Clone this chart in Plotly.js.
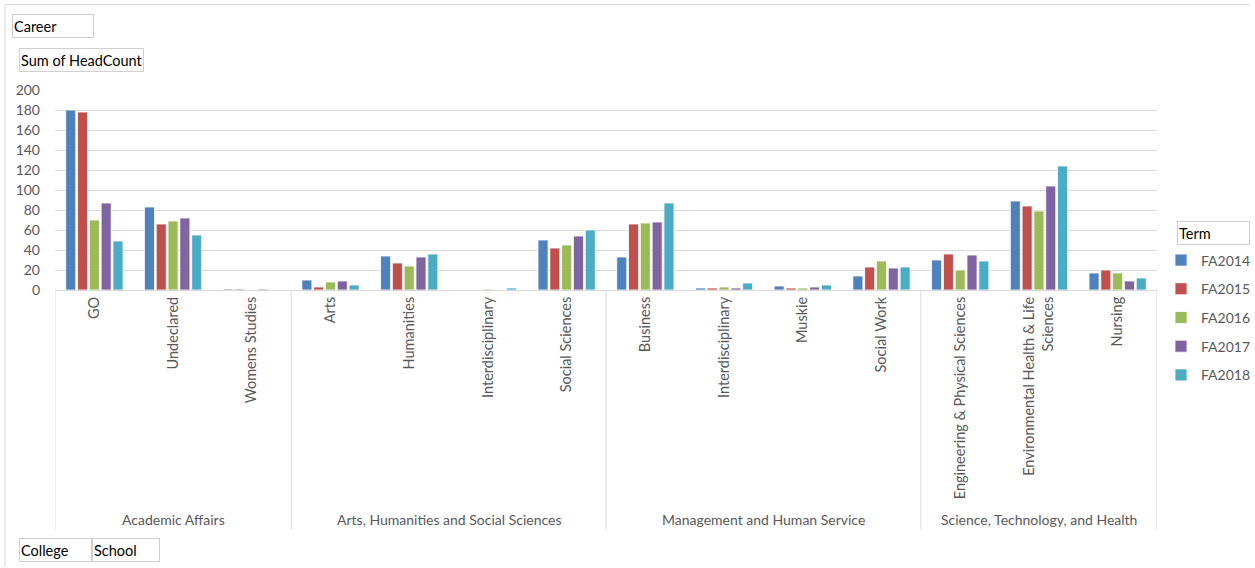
<!DOCTYPE html>
<html>
<head>
<meta charset="utf-8">
<script src="https://cdn.plot.ly/plotly-3.0.1.min.js"></script>
<style>html,body{margin:0;padding:0;background:#fff;}#chart{width:1255px;height:568px;}</style>
</head>
<body>
<div id="chart"></div>
<script>
// ---- data ----
const colleges = ["Academic Affairs", "Arts, Humanities and Social Sciences", "Management and Human Service", "Science, Technology, and Health"];
const schoolCollege = [0, 0, 0, 1, 1, 1, 1, 2, 2, 2, 2, 3, 3, 3];
const schools = ["GO", "Undeclared", "Womens Studies", "Arts", "Humanities", "Interdisciplinary", "Social Sciences", "Business", "Interdisciplinary", "Muskie", "Social Work", "Engineering & Physical Sciences", "Environmental Health & Life<br>Sciences", "Nursing"];
const terms = ["FA2014", "FA2015", "FA2016", "FA2017", "FA2018"];
const fa2014 = [180, 83, 1, 10, 34, null, 50, 33, 2, 4, 14, 30, 89, 17];
const fa2015 = [178, 66, 1, 3, 27, null, 42, 66, 2, 2, 23, 36, 84, 20];
const fa2016 = [70, 69, null, 8, 24, 1, 45, 67, 3, 2, 29, 20, 79, 17];
const fa2017 = [87, 72, 1, 9, 33, null, 54, 68, 2, 3, 22, 35, 104, 9];
const fa2018 = [49, 55, null, 5, 36, 2, 60, 87, 7, 5, 23, 29, 124, 12];
const series = [fa2014, fa2015, fa2016, fa2017, fa2018];
const colors = ["#4F81BD", "#C0504D", "#9BBB59", "#8064A2", "#4BACC6"];

const xIdx = schools.map((_, i) => i);
const FONT = "Lato, 'Liberation Sans', sans-serif";
const PW = 1102; // plot width in px

const traces = series.map((vals, k) => ({
  type: "bar",
  name: terms[k],
  x: xIdx,
  y: vals,
  legendgroup: terms[k],
  marker: {color: colors[k], line: {color: "rgba(255,255,255,0.8)", width: 1}},
  hoverinfo: "x+y+name"
}));

// group dividers and labels
const shapes = [];
const annotations = [];
const groupStarts = [];
colleges.forEach((c, g) => {
  const idx = xIdx.filter(i => schoolCollege[i] === g);
  const lo = Math.min(...idx), hi = Math.max(...idx);
  groupStarts.push(lo - 0.5);
  annotations.push({
    text: c, xref: "x", yref: "paper", x: (lo + hi) / 2, y: -1.145,
    showarrow: false, yanchor: "middle",
    font: {family: FONT, size: 14, color: "#595959"}
  });
});
groupStarts.push(schools.length - 0.5);
groupStarts.forEach(xv => shapes.push({
  type: "line", xref: "x", yref: "paper", x0: xv, x1: xv, y0: 0, y1: -1.2,
  line: {color: "#d9d9d9", width: 1}
}));
// outer border of chart (top and left edges)
const bx0 = (5 - 55) / PW, bx1 = (1250 - 55) / PW, by0 = (290 - 567) / 200, by1 = (290 - 4.5) / 200;
shapes.push({type: "line", xref: "paper", yref: "paper", x0: bx0, x1: bx1, y0: by1, y1: by1, line: {color: "#d9d9d9", width: 1}});
shapes.push({type: "line", xref: "paper", yref: "paper", x0: bx0, x1: bx0, y0: by0, y1: by1, line: {color: "#d9d9d9", width: 1}});

function boxLabel(text, cx, cy, w) {
  return {
    text: text, xref: "paper", yref: "paper",
    x: (cx - 55) / PW, y: (290 - cy) / 200,
    xanchor: "center", yanchor: "middle", showarrow: false,
    width: w, height: 20, align: "left",
    bordercolor: "#d0d0d0", borderwidth: 1, borderpad: 1,
    font: {family: FONT, size: 14.5, color: "#000"}
  };
}
annotations.push(boxLabel("Career", 53, 26, 78));
annotations.push(boxLabel("Sum of HeadCount", 81.5, 60, 121));
annotations.push(boxLabel("College", 55.5, 550, 69));
annotations.push(boxLabel("School", 126, 550, 64));
annotations.push(boxLabel("Term", 1213.5, 233, 69));

const layout = {
  width: 1255, height: 568,
  margin: {l: 55, r: 98, t: 90, b: 278, autoexpand: false},
  paper_bgcolor: "#fff", plot_bgcolor: "#fff",
  font: {family: FONT, color: "#595959", size: 13},
  barmode: "group", bargap: 0.25, bargroupgap: 0.15,
  showlegend: true,
  legend: {
    x: (1161 - 55) / PW, xanchor: "left", y: (290 - 244.5) / 200, yanchor: "top",
    traceorder: "grouped", tracegroupgap: 7.5,
    font: {family: FONT, size: 14, color: "#595959"},
    itemwidth: 30, bgcolor: "rgba(0,0,0,0)"
  },
  xaxis: {
    range: [-0.5, schools.length - 0.5],
    tickmode: "array", tickvals: xIdx, ticktext: schools,
    tickangle: -90, showgrid: false, zeroline: false,
    showline: true, linecolor: "#d9d9d9", linewidth: 1,
    ticks: "", ticklen: 0,
    tickfont: {family: FONT, size: 14.5, color: "#595959"}, fixedrange: true
  },
  yaxis: {
    range: [0, 200], dtick: 20, tick0: 0,
    showgrid: true, gridcolor: "#d9d9d9", gridwidth: 1,
    zeroline: false, showline: false, ticks: "",
    ticklabelstandoff: 14,
    tickfont: {family: FONT, size: 14, color: "#595959"}, fixedrange: true
  },
  shapes: shapes,
  annotations: annotations
};

Plotly.newPlot("chart", traces, layout, {displayModeBar: false, staticPlot: true});
</script>
</body>
</html>
